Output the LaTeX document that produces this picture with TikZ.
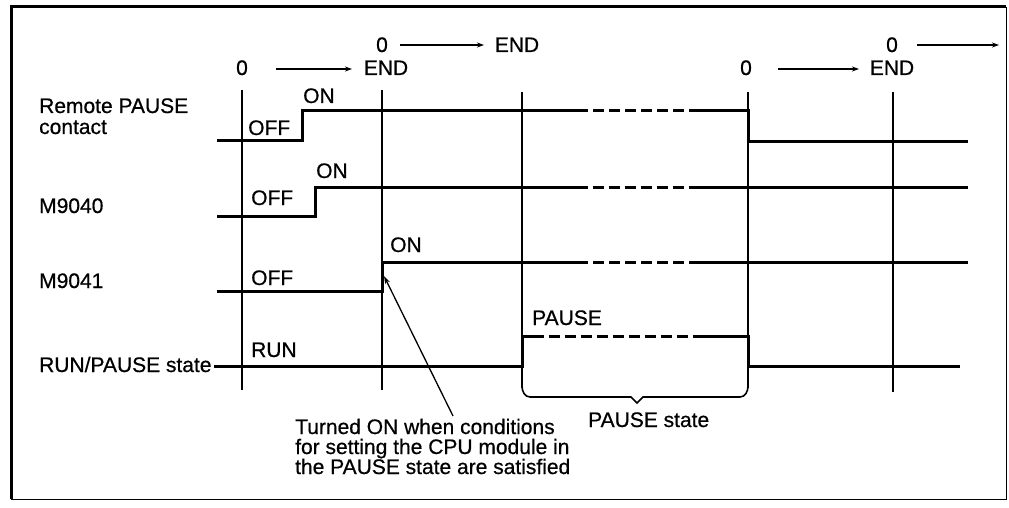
\documentclass[tikz,border=0pt]{standalone}
\usepackage{fontspec}
\setmainfont{Liberation Sans}[FakeBold=0.6]
\usetikzlibrary{arrows.meta}
\begin{document}
\begin{tikzpicture}[x=1pt,y=-1pt,
  lbl/.style={font=\fontsize{21}{19}\selectfont, inner sep=0pt, anchor=base west},
  lblc/.style={lbl, anchor=base},
  sig/.style={line width=3pt, line cap=butt, line join=miter},
  gridline/.style={line width=1.8pt},
  hdr/.style={line width=1.5pt, -{Stealth[length=7pt,width=5pt]}},
  dsh/.style={line width=3pt, dash pattern=on 11pt off 5pt},
  note/.style={line width=1.3pt, -{Stealth[length=8pt,width=5pt]}}]
\useasboundingbox (0,0) rectangle (1009,508);
% frame
\draw[line width=3pt] (11,499) -- (11,7) -- (1006,7);
\draw[line width=1pt] (1006,7) -- (1006,499) -- (11,499);
% vertical time marks
\draw[gridline] (242,90) -- (242,390);
\draw[gridline] (382,90) -- (382,390);
\draw[gridline] (522,92) -- (522,388);
\draw[gridline] (748,92) -- (748,388);
\draw[gridline] (893,92) -- (893,392);
% brace
\draw[line width=1.6pt] (522,386) to[out=-90,in=180] (530,397) -- (631,397) -- (637,403) -- (643,397) -- (740,397) to[out=0,in=-90] (748,386);
% header labels
\node[lblc] (z1) at (242,75) {0};
\node[lblc] (e1) at (386,75) {END};
\node[lblc] (z2) at (382,52) {0};
\node[lblc] (e2) at (517,52) {END};
\node[lblc] (z3) at (746,75) {0};
\node[lblc] (e3) at (892,75) {END};
\node[lblc] (z4) at (892,52) {0};
\coordinate (a1s) at (276,69); \coordinate (a1e) at (352,69);
\coordinate (a2s) at (400,45); \coordinate (a2e) at (484,45);
\coordinate (a3s) at (778,69); \coordinate (a3e) at (859,69);
\coordinate (a4s) at (917,45); \coordinate (a4e) at (999,45);
\draw[hdr] (a1s) -- (a1e);
\draw[hdr] (a2s) -- (a2e);
\draw[hdr] (a3s) -- (a3e);
\draw[hdr] (a4s) -- (a4e);
% signal names
\node[lbl] (rp) at (39,113) {Remote PAUSE};
\node[lbl] (rpc) at (39,134) {contact};
\node[lbl] (m40) at (39,213) {M9040};
\node[lbl] (m41) at (39,288) {M9041};
\node[lbl] (rps) at (39,372) {RUN/PAUSE state};
% row 1: remote pause contact
\draw[sig] (217,141) -- (302,141) -- (302,111) -- (577,111);
\draw[dsh] (577,111) -- (693,111);
\draw[sig] (693,111) -- (748,111) -- (748,142) -- (968,142);
% row 2: M9040
\draw[sig] (217,216) -- (315,216) -- (315,187) -- (577,187);
\draw[dsh] (577,187) -- (693,187);
\draw[sig] (693,187) -- (968,187);
% row 3: M9041
\draw[sig] (217,291) -- (382,291) -- (382,262) -- (577,262);
\draw[dsh] (577,262) -- (693,262);
\draw[sig] (693,262) -- (968,262);
% row 4: RUN/PAUSE state
\draw[sig] (214,366) -- (522,366) -- (522,336) -- (533,336);
\draw[dsh] (533,336) -- (693,336);
\draw[sig] (693,336) -- (748,336) -- (748,366) -- (960,366);
% state labels
\node[lbl] (off1) at (248,135) {OFF};
\node[lbl] (on1) at (303,103) {ON};
\node[lbl] (off2) at (251,205) {OFF};
\node[lbl] (on2) at (316,178) {ON};
\node[lbl] (off3) at (251,285) {OFF};
\node[lbl] (on3) at (390,252) {ON};
\node[lbl] (run) at (251,357) {RUN};
\node[lbl] (pause) at (532,325) {PAUSE};
\node[lbl] (pst) at (588,427) {PAUSE state};
% annotation
\node[lbl, font=\fontsize{21}{20}\selectfont, align=left] (note) at (295,474)
  {Turned ON when conditions\\for setting the CPU module in\\the PAUSE state are satisfied};
\coordinate (ntail) at (453,416);
\coordinate (nhead) at (384,276);
\draw[note] (ntail) -- (nhead);
\end{tikzpicture}
\end{document}
